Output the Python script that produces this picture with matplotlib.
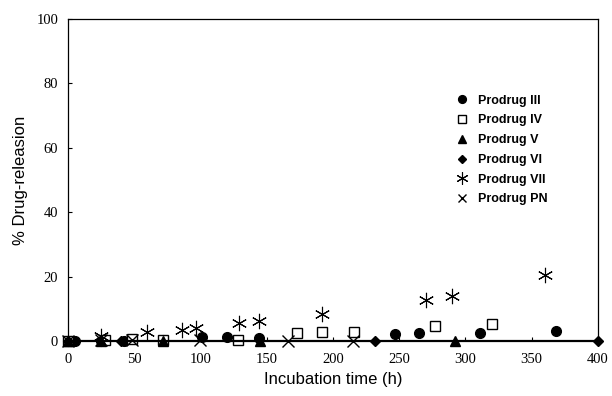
import numpy as np
import matplotlib
matplotlib.use('Agg')
import matplotlib.pyplot as plt

# values
x_iii = [0, 2, 5, 25, 42, 72, 101, 120, 144, 247, 265, 311, 368]
y_iii = [0, 0, 0, 0, 0, 0.3, 1.2, 1.2, 1.0, 2.3, 2.5, 2.4, 3.1]

x_iv = [0, 28, 48, 72, 128, 173, 192, 216, 277, 320]
y_iv = [0, 0.3, 0.5, 0.3, 0.3, 2.5, 2.8, 2.8, 4.7, 5.3]

x_v = [0, 25, 72, 145, 292]
y_v = [0, 0, 0, 0, 0]

x_vi = [0, 40, 232, 400]
y_vi = [0, 0, 0, 0]

x_vii = [25, 60, 86, 97, 129, 144, 192, 270, 290, 360]
y_vii = [1.5, 2.8, 3.4, 4.0, 5.6, 6.2, 8.4, 12.7, 14.0, 20.5]

x_pn = [0, 25, 48, 100, 166, 215]
y_pn = [0, 0.3, 0.3, 0.3, 0, 0]

xticks = [0, 50, 100, 150, 200, 250, 300, 350, 400]
yticks = [0, 20, 40, 60, 80, 100]

fig = plt.figure(figsize=(6.12, 3.96), dpi=100)
ax = fig.add_axes([0.111, 0.139, 0.866, 0.813])

ax.plot(x_iii, y_iii, 'o', color='black', ms=7, ls='none', clip_on=False, label='Prodrug III')
ax.plot(x_iv, y_iv, 's', mfc='white', mec='black', mew=1, ms=7, ls='none', clip_on=False, label='Prodrug IV')
ax.plot(x_v, y_v, '^', color='black', ms=7, ls='none', clip_on=False, label='Prodrug V')
ax.plot(x_vi, y_vi, 'D', color='black', ms=5, ls='none', clip_on=False, label='Prodrug VI')
# asterisk: x plus vertical bar
ax.plot(x_vii, y_vii, marker=(6, 2, 0), color='black', mew=0.8, ms=11, ls='none', clip_on=False, label='Prodrug VII')
ax.plot(x_pn, y_pn, 'x', color='black', mew=1, ms=8, ls='none', clip_on=False, label='Prodrug PN')

ax.set_xlim(0, 400)
ax.set_ylim(0, 100)
ax.set_xticks(xticks)
ax.set_yticks(yticks)
ax.tick_params(direction='in', length=3, width=0.8, labelsize=10.5)
for lab in ax.get_xticklabels() + ax.get_yticklabels():
    lab.set_fontfamily('Liberation Serif')
ax.tick_params(axis='x', pad=9)
ax.tick_params(axis='y', pad=7)
for s in ax.spines.values():
    s.set_linewidth(0.9)
ax.spines['bottom'].set_linewidth(1.6)

ax.set_xlabel('Incubation time (h)', fontsize=12, fontfamily='Liberation Sans', labelpad=4)
ax.set_ylabel('% Drug-releasion', fontsize=12, fontfamily='Liberation Sans', labelpad=6)

leg = ax.legend(loc='upper left', bbox_to_anchor=(0.71, 0.80), frameon=False,
                prop={'family': 'Liberation Sans', 'weight': 'bold', 'size': 9},
                handletextpad=0.8, labelspacing=0.62, handlelength=1.0, markerscale=0.8)

fig.savefig('out.png', dpi=100)
